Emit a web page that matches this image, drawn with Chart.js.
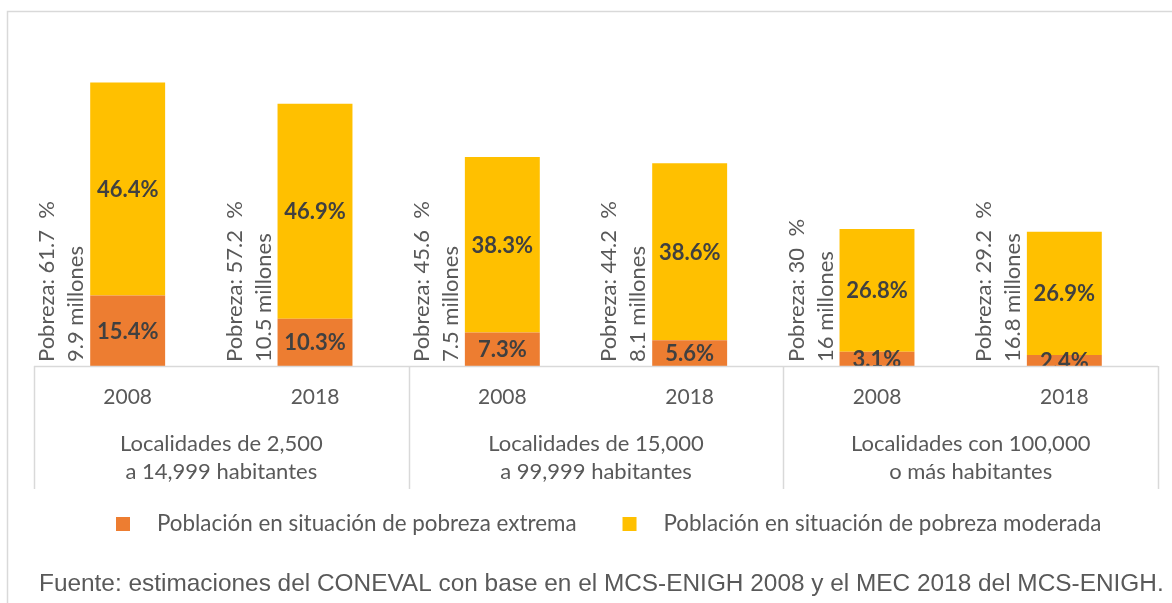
<!DOCTYPE html>
<html>
<head>
<meta charset="utf-8">
<script src="https://cdn.jsdelivr.net/npm/chart.js@4"></script>
<style>
  html, body { margin: 0; padding: 0; background: #fff; }
  #wrap { width: 1172px; height: 603px; }
</style>
</head>
<body>
<div id="wrap"><canvas id="c" width="1172" height="603"></canvas></div>
<script>
const years = ["2008", "2018", "2008", "2018", "2008", "2018"];
const groups = [
  ["Localidades de 2,500", "a 14,999 habitantes"],
  ["Localidades de 15,000", "a 99,999 habitantes"],
  ["Localidades con 100,000", "o más habitantes"],
];
const extrema = [15.4, 10.3, 7.3, 5.6, 3.1, 2.4];
const moderada = [46.4, 46.9, 38.3, 38.6, 26.8, 26.9];
const pobreza = ["61.7", "57.2", "45.6", "44.2", "30", "29.2"];
const millones = ["9.9", "10.5", "7.5", "8.1", "16", "16.8"];
const seriesNames = ["Población en situación de pobreza extrema", "Población en situación de pobreza moderada"];
const fuente = "Fuente: estimaciones del CONEVAL con base en el MCS-ENIGH 2008 y el MEC 2018 del MCS-ENIGH.";

const ORANGE = "#ED7D31";
const YELLOW = "#FFC000";
const GRAY = "#595959";
const LINE = "#D9D9D9";
const FONT = "Lato";

// everything that is not a bar: value labels, rotated notes, two-level axis, legend, source
const extras = {
  id: "extras",
  beforeDraw(chart) {
    const ctx = chart.ctx;
    ctx.save();
    ctx.strokeStyle = LINE;
    ctx.lineWidth = 1.5;
    ctx.strokeRect(7.5, 11.5, 1200, 700);
    ctx.restore();
  },
  afterDatasetsDraw(chart) {
    const ctx = chart.ctx;
    const area = chart.chartArea;
    const xs = chart.scales.x;
    const m0 = chart.getDatasetMeta(0).data;
    const m1 = chart.getDatasetMeta(1).data;

    // value labels inside the segments, clipped to the plot
    ctx.save();
    ctx.beginPath();
    ctx.rect(area.left, area.top, area.right - area.left, area.bottom - area.top);
    ctx.clip();
    ctx.font = "bold 22px " + FONT;
    ctx.fillStyle = "#404040";
    ctx.textAlign = "center";
    ctx.textBaseline = "middle";
    [[m0, extrema], [m1, moderada]].forEach(([els, vals]) => {
      els.forEach((el, i) => {
        ctx.fillText(vals[i].toFixed(1) + "%", el.x, (el.y + el.base) / 2 + 1);
      });
    });
    ctx.restore();

    // rotated notes left of each bar
    ctx.save();
    ctx.font = "22px " + FONT;
    ctx.fillStyle = GRAY;
    ctx.textAlign = "left";
    ctx.textBaseline = "middle";
    m0.forEach((el, i) => {
      const left = el.x - el.width / 2;
      ctx.save();
      ctx.translate(left - 43, area.bottom - 4);
      ctx.rotate(-Math.PI / 2);
      ctx.fillText("Pobreza: " + pobreza[i] + "  %", 0, 0);
      ctx.fillText(millones[i] + " millones", 0, 29);
      ctx.restore();
    });
    ctx.restore();

    // axis line and group separators
    ctx.save();
    ctx.strokeStyle = LINE;
    ctx.lineWidth = 1.5;
    ctx.beginPath();
    ctx.moveTo(area.left, area.bottom + 0.5);
    ctx.lineTo(area.right, area.bottom + 0.5);
    const step = xs.getPixelForValue(1) - xs.getPixelForValue(0);
    for (let g = 0; g <= groups.length; g++) {
      const x = Math.round(xs.getPixelForValue(g * 2) - step / 2) + 0.5;
      ctx.moveTo(x, area.bottom);
      ctx.lineTo(x, area.bottom + 123);
    }
    ctx.stroke();

    ctx.fillStyle = GRAY;
    ctx.textAlign = "center";
    ctx.textBaseline = "middle";
    ctx.font = "21px " + FONT;
    years.forEach((y, i) => ctx.fillText(y, xs.getPixelForValue(i), area.bottom + 31));
    ctx.font = "22px " + FONT;
    groups.forEach((lines, g) => {
      const cx = (xs.getPixelForValue(g * 2) + xs.getPixelForValue(g * 2 + 1)) / 2;
      lines.forEach((t, k) => ctx.fillText(t, cx, area.bottom + 78 + k * 28));
    });

    // legend
    ctx.font = "22.4px " + FONT;
    ctx.textAlign = "left";
    let lx = 116;
    [ORANGE, YELLOW].forEach((c, k) => {
      ctx.fillStyle = c;
      ctx.fillRect(lx, 517, 14, 14);
      ctx.fillStyle = GRAY;
      ctx.fillText(seriesNames[k], lx + 41, 524);
      lx += 41 + ctx.measureText(seriesNames[k]).width + 46;
    });

    // source note
    ctx.font = "24.4px 'Liberation Sans', Arial";
    ctx.fillStyle = GRAY;
    ctx.textBaseline = "alphabetic";
    ctx.fillText(fuente, 39, 591);
    ctx.restore();
  },
};

new Chart(document.getElementById("c"), {
  type: "bar",
  data: {
    labels: years,
    datasets: [
      { label: seriesNames[0], data: extrema, backgroundColor: ORANGE },
      { label: seriesNames[1], data: moderada, backgroundColor: YELLOW },
    ],
  },
  options: {
    responsive: false,
    animation: false,
    devicePixelRatio: 1,
    layout: { padding: { left: 34, right: 14, top: 45, bottom: 237 } },
    datasets: { bar: { categoryPercentage: 1, barPercentage: 0.4 } },
    scales: {
      x: { stacked: true, display: false },
      y: { stacked: true, display: false, min: 0, max: 70 },
    },
    plugins: {
      legend: { display: false },
      tooltip: { enabled: false },
    },
  },
  plugins: [extras],
});
</script>
</body>
</html>
